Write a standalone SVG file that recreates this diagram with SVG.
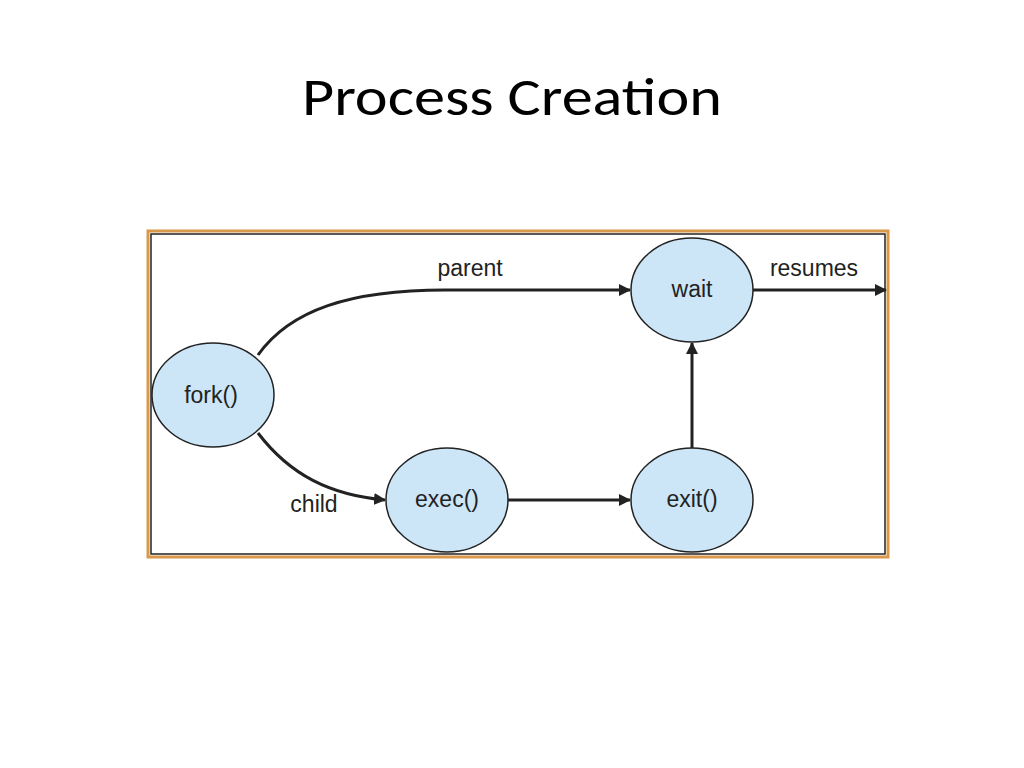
<svg xmlns="http://www.w3.org/2000/svg" width="1024" height="768" viewBox="0 0 1024 768">
<style>
.n{fill:#cce6f7;stroke:#222;stroke-width:1.5}
.t{font-family:"Liberation Sans Narrow","Liberation Sans",Arial,sans-serif;font-size:23px;fill:#222;text-anchor:middle}
.c{fill:none;stroke:#222;stroke-width:3}
</style>
<defs><marker id="a" markerWidth="12" markerHeight="12" refX="11" refY="6" orient="auto" markerUnits="userSpaceOnUse"><path d="M0,0 L12,6 L0,12 Z" fill="#222"/></marker></defs>
<rect width="1024" height="768" fill="#fff"/>
<text x="512" y="115" font-family="Calibri,Carlito,'Liberation Sans',sans-serif" font-size="54" text-anchor="middle" textLength="420" lengthAdjust="spacingAndGlyphs">Process Creation</text>
<rect x="148" y="231" width="740" height="326" fill="none" stroke="#d9984a" stroke-width="3"/>
<rect x="151" y="234" width="734" height="320" fill="none" stroke="#222" stroke-width="1.5"/>
<g id="connectors">
<path class="c" d="M258,355 C290,310 350,290 445,290 L630,290" marker-end="url(#a)"/>
<path class="c" d="M258,433 C290,475 330,495 385,500" marker-end="url(#a)"/>
<path class="c" d="M508,500 L630,500" marker-end="url(#a)"/>
<path class="c" d="M692,448 L692,343" marker-end="url(#a)"/>
<path class="c" d="M753,290 L886,290" marker-end="url(#a)"/>
<text class="t" x="470" y="276">parent</text>
<text class="t" x="814" y="276">resumes</text>
<text class="t" x="314" y="512">child</text>
</g>
<g id="fork"><ellipse class="n" cx="213" cy="395" rx="61" ry="52"/><text class="t" x="211" y="403">fork()</text></g>
<g id="wait"><ellipse class="n" cx="692" cy="290" rx="61" ry="52"/><text class="t" x="692" y="297">wait</text></g>
<g id="exec"><ellipse class="n" cx="447" cy="500" rx="61" ry="52"/><text class="t" x="447" y="507">exec()</text></g>
<g id="exit"><ellipse class="n" cx="692" cy="500" rx="61" ry="52"/><text class="t" x="692" y="507">exit()</text></g>
</svg>
